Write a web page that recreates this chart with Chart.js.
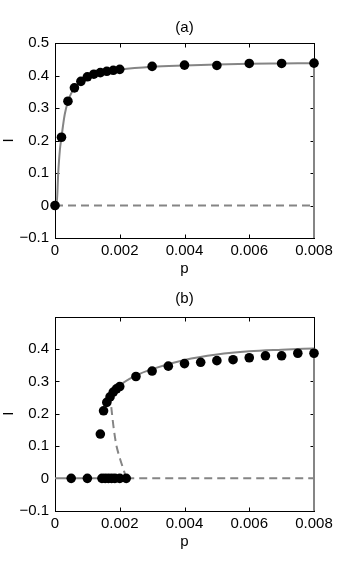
<!DOCTYPE html>
<html>
<head>
<meta charset="utf-8">
<script src="https://cdn.jsdelivr.net/npm/chart.js@4/dist/chart.umd.min.js"></script>
<style>
  html, body { margin: 0; padding: 0; background: #fff; }
  #wrap { position: relative; width: 346px; height: 576px; }
  .panel { position: absolute; left: 0; width: 346px; }
</style>
</head>
<body>
<div id="wrap">
  <div class="panel" style="top:0;height:290px"><canvas id="ca" width="346" height="290"></canvas></div>
  <div class="panel" style="top:290px;height:286px"><canvas id="cb" width="346" height="286"></canvas></div>
</div>
<script>
// ---------- tick labels ----------
const xTickLabels = ['0', '0.002', '0.004', '0.006', '0.008'];
const yTickLabelsA = ['\u22120.1', '0', '0.1', '0.2', '0.3', '0.4', '0.5'];
const yTickLabelsB = ['\u22120.1', '0', '0.1', '0.2', '0.3', '0.4', ''];

// ---------- panel (a) ----------
const pointsA_p = [0, 0.0002, 0.0004, 0.0006, 0.0008, 0.001, 0.0012, 0.0014, 0.0016, 0.0018, 0.002,
                   0.003, 0.004, 0.005, 0.006, 0.007, 0.008];
const pointsA_I = [0, 0.21, 0.321, 0.362, 0.382, 0.396, 0.404, 0.409, 0.413, 0.416, 0.419,
                   0.428, 0.432, 0.431, 0.437, 0.437, 0.438];
const curveA_p = [0, 0.00005, 0.0001, 0.00015, 0.0002, 0.0003, 0.0004, 0.0005, 0.0006, 0.0008, 0.001,
                  0.0015, 0.002, 0.003, 0.004, 0.005, 0.006, 0.007, 0.008];
const curveA_I = [0, 0, 0.1, 0.17, 0.21, 0.28, 0.32, 0.345, 0.36, 0.38, 0.393,
                  0.41, 0.418, 0.427, 0.431, 0.434, 0.436, 0.437, 0.438];
const edgeA_p = [0.008, 0.008];
const edgeA_I = [0.438, -0.1];
const zeroA_p = [0, 0.008];
const zeroA_I = [0, 0];

// ---------- panel (b) ----------
const pointsB_p = [0.0005, 0.001, 0.00145, 0.00155, 0.00165, 0.00175, 0.00185, 0.002, 0.0022,
                   0.0014, 0.0015, 0.0016, 0.0017, 0.0018, 0.0019, 0.002,
                   0.0025, 0.003, 0.0035, 0.004, 0.0045, 0.005, 0.0055, 0.006, 0.0065, 0.007, 0.0075, 0.008];
const pointsB_I = [0, 0, 0, 0, 0, 0, 0, 0, 0,
                   0.137, 0.209, 0.235, 0.252, 0.267, 0.277, 0.284,
                   0.315, 0.332, 0.347, 0.355, 0.359, 0.364, 0.367, 0.373, 0.379, 0.379, 0.387, 0.387];
const stableB_p = [0.00172, 0.0018, 0.0019, 0.002, 0.0025, 0.003, 0.004, 0.005, 0.006, 0.007, 0.008];
const stableB_I = [0.245, 0.262, 0.276, 0.287, 0.318, 0.338, 0.366, 0.383, 0.393, 0.398, 0.402];
const edgeB_p = [0.008, 0.008];
const edgeB_I = [0.402, -0.1];
const unstableB_p = [0.0022, 0.00214, 0.00201, 0.0019, 0.00182, 0.00176, 0.00173, 0.00172];
const unstableB_I = [0, 0.02, 0.06, 0.1, 0.15, 0.2, 0.23, 0.245];
const zeroSolidB_p = [0, 0.0022];
const zeroSolidB_I = [0, 0];
const zeroDashB_p = [0.0022, 0.008];
const zeroDashB_I = [0, 0];

function pts(px, py) { return px.map((v, i) => ({ x: v, y: py[i] })); }

const GRAY = '#858585';
const FONT = '"Liberation Sans", Arial, Helvetica, sans-serif';
const FS = 15;

const boxTicks = {
  id: 'boxTicks',
  beforeDatasetsDraw(chart) {
    const { ctx, chartArea: a, scales: { x, y } } = chart;
    const L = 4;
    ctx.save();
    ctx.strokeStyle = '#000';
    ctx.lineWidth = 1;
    const l = Math.round(a.left) + 0.5, r = Math.round(a.right) + 0.5;
    const t = Math.round(a.top) + 0.5, b = Math.round(a.bottom) + 0.5;
    ctx.strokeRect(l, t, r - l, b - t);
    ctx.beginPath();
    x.ticks.forEach(tk => {
      const px = Math.round(x.getPixelForValue(tk.value)) + 0.5;
      ctx.moveTo(px, b); ctx.lineTo(px, b - L);
      ctx.moveTo(px, t); ctx.lineTo(px, t + L);
    });
    y.ticks.forEach(tk => {
      const py = Math.round(y.getPixelForValue(tk.value)) + 0.5;
      ctx.moveTo(l, py); ctx.lineTo(l + L, py);
      ctx.moveTo(r, py); ctx.lineTo(r - L, py);
    });
    ctx.stroke();
    ctx.restore();
  }
};

function solid(data, order) {
  return { data, showLine: true, pointRadius: 0, borderColor: GRAY, borderWidth: 2,
           cubicInterpolationMode: 'monotone', clip: 2, order };
}
function straight(data, order) {
  return { data, showLine: true, pointRadius: 0, borderColor: GRAY, borderWidth: 2,
           tension: 0, clip: 2, order };
}
function dashed(data, order, tension) {
  return { data, showLine: true, pointRadius: 0, borderColor: GRAY, borderWidth: 2,
           borderDash: [8, 5], tension: tension || 0, clip: 2, order };
}
function dots(data) {
  return { data, showLine: false, pointRadius: 4.8, pointHoverRadius: 4.8,
           backgroundColor: '#000', borderColor: '#000', borderWidth: 0, clip: false, order: 0 };
}

function makeChart(id, cfg) {
  return new Chart(document.getElementById(id), {
    type: 'scatter',
    data: { datasets: cfg.datasets },
    options: {
      responsive: false,
      animation: false,
      events: [],
      layout: { padding: { left: 0, right: 32, top: 0, bottom: cfg.padBottom } },
      plugins: {
        legend: { display: false },
        tooltip: { enabled: false },
        title: { display: true, text: cfg.title, color: '#000', fullSize: false,
                 font: { family: FONT, size: FS, weight: 'normal' },
                 padding: { top: cfg.titleTop, bottom: cfg.titleBottom } }
      },
      scales: {
        x: {
          type: 'linear', min: 0, max: 0.008,
          grid: { display: false, drawTicks: false },
          border: { display: false },
          ticks: { stepSize: 0.002, padding: 3.7, color: '#000', maxRotation: 0,
                   font: { family: FONT, size: FS },
                   callback: (v, i) => xTickLabels[i] },
          title: { display: true, text: 'p', color: '#000', padding: 0,
                   font: { family: FONT, size: FS } },
          afterFit: s => { s.height = 40; }
        },
        y: {
          type: 'linear', min: -0.1, max: 0.5,
          grid: { display: false, drawTicks: false },
          border: { display: false },
          ticks: { stepSize: 0.1, padding: 6, color: '#000',
                   font: { family: FONT, size: FS },
                   callback: (v, i) => cfg.yLabels[i] },
          title: { display: true, text: 'I', color: '#000', padding: { top: 0, bottom: 0 },
                   font: { family: FONT, size: FS } },
          afterFit: s => { s.width = 55; }
        }
      }
    },
    plugins: [boxTicks]
  });
}

makeChart('ca', {
  title: '(a)', titleTop: 19, titleBottom: 6, padBottom: 12, yLabels: yTickLabelsA,
  datasets: [
    dots(pts(pointsA_p, pointsA_I)),
    solid(pts(curveA_p, curveA_I), 1),
    straight(pts(edgeA_p, edgeA_I), 2),
    dashed(pts(zeroA_p, zeroA_I), 3)
  ]
});

makeChart('cb', {
  title: '(b)', titleTop: 0, titleBottom: 8.7, padBottom: 25.3, yLabels: yTickLabelsB,
  datasets: [
    dots(pts(pointsB_p, pointsB_I)),
    solid(pts(stableB_p, stableB_I), 1),
    straight(pts(edgeB_p, edgeB_I), 2),
    dashed(pts(unstableB_p, unstableB_I), 3, 0.3),
    straight(pts(zeroSolidB_p, zeroSolidB_I), 4),
    dashed(pts(zeroDashB_p, zeroDashB_I), 5)
  ]
});
</script>
</body>
</html>
